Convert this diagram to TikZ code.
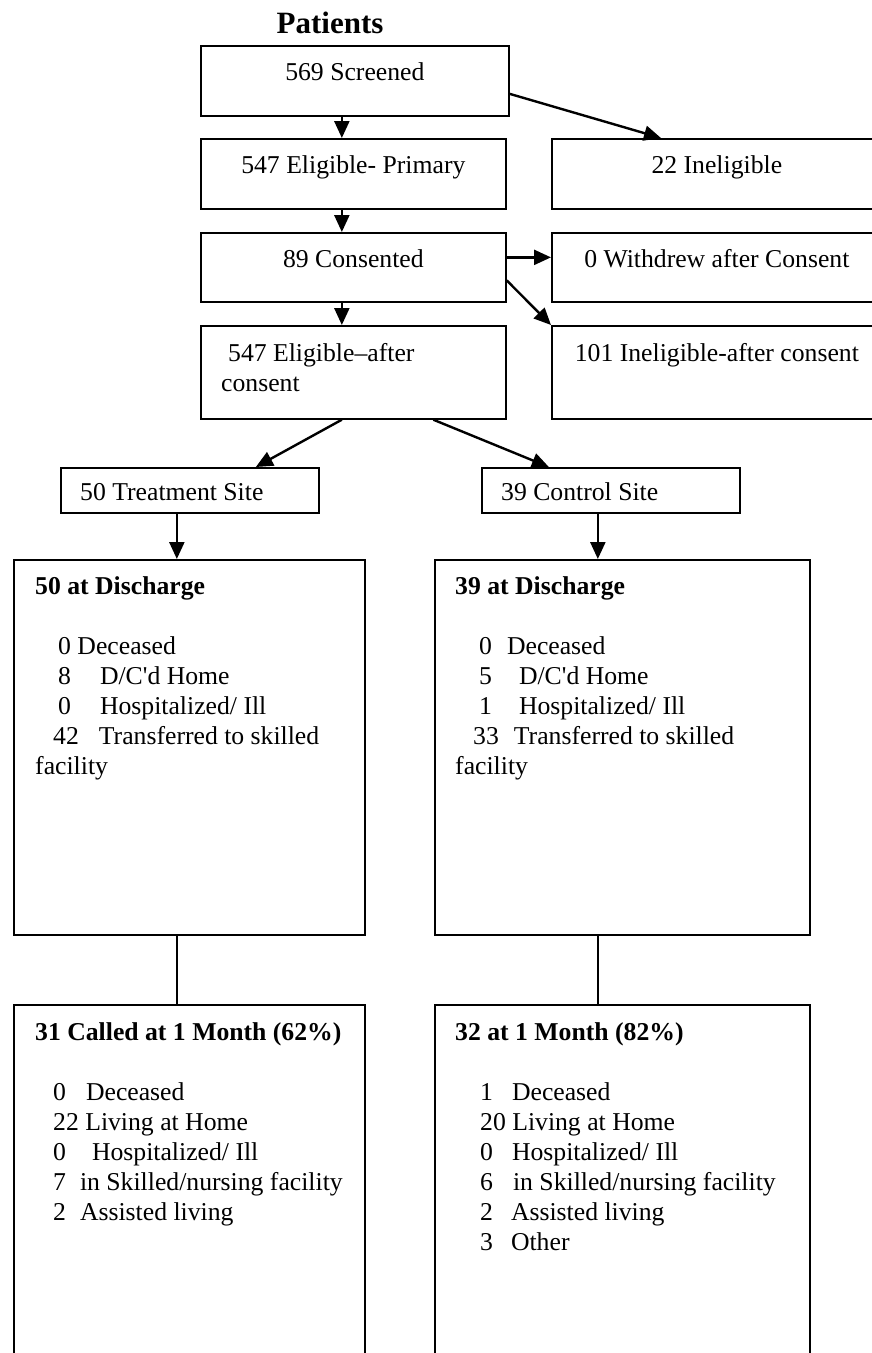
\documentclass[tikz,border=0pt]{standalone}
\usepackage{fontspec}
\setmainfont{Liberation Serif}
\usetikzlibrary{arrows.meta}

\begin{document}
\begin{tikzpicture}[x=1pt, y=-1pt,
    frame/.style={draw, line width=1.7pt, inner sep=0pt, anchor=north west},
    txt/.style={inner sep=0pt, font=\fontsize{25.7}{30}\selectfont},
    lst/.style={txt, anchor=base west, text width=330pt, align=flush left},
    arrow/.style={-{Triangle[length=17pt, width=15pt]}, line width=2.4pt},
    link/.style={line width=1.7pt}
  ]
  \useasboundingbox (0,0) rectangle (872,1353);
  \clip (0,0) rectangle (872,1353);

  \node[anchor=base, inner sep=0pt, font=\fontsize{31}{36}\selectfont\bfseries]
        (title) at (330,33) {Patients};

  % boxes
  \node[frame, minimum width=308pt, minimum height=70pt] (scr)   at (200,45)  {};
  \node[frame, minimum width=305pt, minimum height=70pt] (elig)  at (200,138) {};
  \node[frame, minimum width=330pt, minimum height=70pt] (inel)  at (551,138) {};
  \node[frame, minimum width=305pt, minimum height=69pt] (cons)  at (200,232) {};
  \node[frame, minimum width=330pt, minimum height=69pt] (wdr)   at (551,232) {};
  \node[frame, minimum width=305pt, minimum height=93pt] (eligc) at (200,325) {};
  \node[frame, minimum width=330pt, minimum height=93pt] (inelc) at (551,325) {};
  \node[frame, minimum width=258pt, minimum height=45pt] (trt)   at (60,467)  {};
  \node[frame, minimum width=258pt, minimum height=45pt] (ctl)   at (481,467) {};
  \node[frame, minimum width=351pt, minimum height=375pt] (disT) at (13,559)  {};
  \node[frame, minimum width=375pt, minimum height=375pt] (disC) at (434,559) {};
  \node[frame, minimum width=351pt, minimum height=400pt] (monT) at (13,1004) {};
  \node[frame, minimum width=375pt, minimum height=400pt] (monC) at (434,1004) {};

  % texts
  \node[txt, anchor=base] (scr-t)  at ([yshift=-35pt]scr.north)  {569 Screened};
  \node[txt, anchor=base] (elig-t) at ([yshift=-35pt]elig.north) {547 Eligible- Primary};
  \node[txt, anchor=base] (inel-t) at ([yshift=-35pt]inel.north) {22 Ineligible};
  \node[txt, anchor=base] (cons-t) at ([yshift=-35pt]cons.north) {89 Consented};
  \node[txt, anchor=base] (wdr-t)  at ([yshift=-35pt]wdr.north)  {0 Withdrew after Consent};
  \node[lst] (eligc-t) at ([xshift=21pt, yshift=-36pt]eligc.north west)
        {\hspace*{7pt}547 Eligible–after\\consent};
  \node[txt, anchor=base] (inelc-t) at ([yshift=-36pt]inelc.north)
        {101 Ineligible-after consent};
  \node[lst] (trt-t) at ([xshift=20pt, yshift=-33pt]trt.north west) {50 Treatment Site};
  \node[lst] (ctl-t) at ([xshift=20pt, yshift=-33pt]ctl.north west) {39 Control Site};

  \node[lst] (disT-t) at ([xshift=22pt, yshift=-35pt]disT.north west)
        {\textbf{50 at Discharge}\\[30pt]
         \hspace*{23pt}0 Deceased\\
         \hspace*{23pt}8\hspace*{29pt}D/C\textquotesingle d Home\\
         \hspace*{23pt}0\hspace*{29pt}Hospitalized/ Ill\\
         \hspace*{18pt}42\hspace*{20pt}Transferred to skilled\\
         facility};
  \node[lst] (disC-t) at ([xshift=21pt, yshift=-35pt]disC.north west)
        {\textbf{39 at Discharge}\\[30pt]
         \hspace*{24pt}0\hspace*{15pt}Deceased\\
         \hspace*{24pt}5\hspace*{27pt}D/C\textquotesingle d Home\\
         \hspace*{24pt}1\hspace*{27pt}Hospitalized/ Ill\\
         \hspace*{18pt}33\hspace*{15pt}Transferred to skilled\\
         facility};

  \node[lst] (monT-t) at ([xshift=22pt, yshift=-36pt]monT.north west)
        {\textbf{31 Called at 1 Month (62\%)}\\[30pt]
         \hspace*{18pt}0\hspace*{20pt}Deceased\\
         \hspace*{18pt}22 Living at Home\\
         \hspace*{18pt}0\hspace*{26pt}Hospitalized/ Ill\\
         \hspace*{18pt}7\hspace*{14pt}in Skilled/nursing facility\\
         \hspace*{18pt}2\hspace*{14pt}Assisted living};
  \node[lst] (monC-t) at ([xshift=21pt, yshift=-36pt]monC.north west)
        {\textbf{32 at 1 Month (82\%)}\\[30pt]
         \hspace*{25pt}1\hspace*{19pt}Deceased\\
         \hspace*{25pt}20 Living at Home\\
         \hspace*{25pt}0\hspace*{19pt}Hospitalized/ Ill\\
         \hspace*{25pt}6\hspace*{20pt}in Skilled/nursing facility\\
         \hspace*{25pt}2\hspace*{18pt}Assisted living\\
         \hspace*{25pt}3\hspace*{18pt}Other};

  % connectors
  \draw[arrow] ([xshift=-13pt]scr.south) -- ([xshift=-13pt]scr.south |- elig.north);
  \draw[arrow] ([yshift=-13pt]scr.east) -- ([xshift=110pt]inel.north west);
  \draw[arrow] ([xshift=-11.5pt]elig.south) -- ([xshift=-11.5pt]elig.south |- cons.north);
  \draw[arrow] ([yshift=10pt]cons.east) -- ([yshift=10pt]cons.east -| wdr.west);
  \draw[arrow] ([yshift=-13pt]cons.east) -- (inelc.north west);
  \draw[arrow] ([xshift=-11.5pt]cons.south) -- ([xshift=-11.5pt]cons.south |- eligc.north);
  \draw[arrow] ([xshift=-11.5pt]eligc.south) -- ([xshift=66pt]trt.north);
  \draw[arrow] ([xshift=80pt]eligc.south) -- ([xshift=-62pt]ctl.north);
  \draw[arrow] ([xshift=-13pt]trt.south) -- ([xshift=-13pt]trt.south |- disT.north);
  \draw[arrow] ([xshift=-13pt]ctl.south) -- ([xshift=-13pt]ctl.south |- disC.north);
  \draw[link] ([xshift=-12.5pt]disT.south) -- ([xshift=-12.5pt]disT.south |- monT.north);
  \draw[link] ([xshift=-24.5pt]disC.south) -- ([xshift=-24.5pt]disC.south |- monC.north);
\end{tikzpicture}
\end{document}
